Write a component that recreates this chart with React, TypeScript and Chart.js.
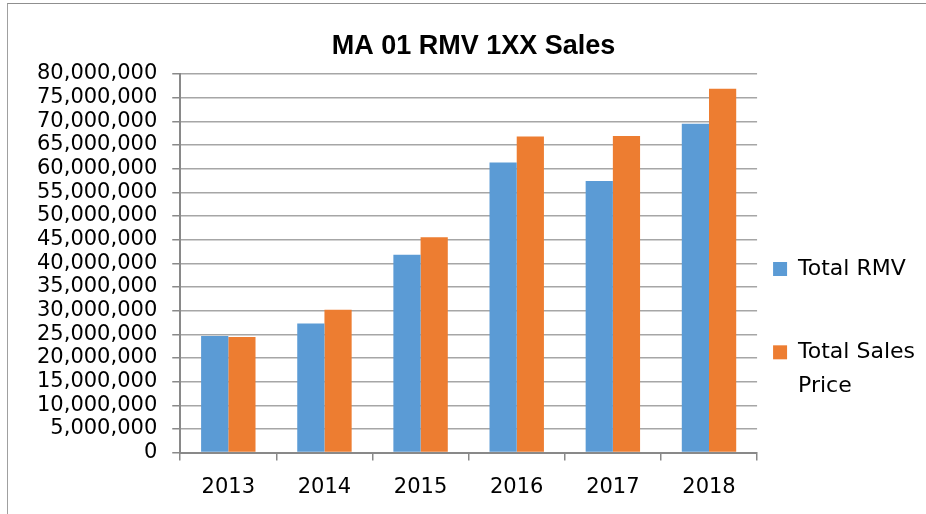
import React, { useEffect, useRef } from "react";
import { Chart, registerables } from "chart.js";

Chart.register(...registerables);

const categories = ["2013", "2014", "2015", "2016", "2017", "2018"];
const totalRMV = [24660000, 27300000, 41800000, 61300000, 57400000, 69500000];
const totalSalesPrice = [24400000, 30200000, 45500000, 66800000, 66900000, 76900000];
const seriesNames = ["Total RMV", "Total Sales Price"];
const legendLines = [["Total RMV", ""], ["Total Sales", "Price"]];
const yMin = 0;
const yMax = 80000000;
const yStep = 5000000;
const chartTitle = "MA 01 RMV 1XX Sales";

export default function App() {
  const ref = useRef<HTMLCanvasElement | null>(null);

  useEffect(() => {
    if (!ref.current) return;
    const chart = new Chart(ref.current, {
      type: "bar",
      data: {
        labels: categories,
        datasets: [
          { label: seriesNames[0], data: totalRMV, backgroundColor: "#5B9BD5", borderWidth: 0 },
          { label: seriesNames[1], data: totalSalesPrice, backgroundColor: "#ED7D31", borderWidth: 0 },
        ],
      },
      options: {
        responsive: false,
        animation: false,
        datasets: { bar: { categoryPercentage: 0.566, barPercentage: 1 } },
        layout: { padding: { left: 22, right: 1, top: 0, bottom: 0 } },
        plugins: {
          tooltip: { enabled: false },
          title: {
            display: true,
            text: chartTitle,
            color: "#000",
            font: { family: "Liberation Sans", size: 27, weight: "bold", lineHeight: 1.2 },
            padding: { top: 30, bottom: 11.6 },
          },
          legend: {
            position: "right",
            align: "start",
            title: { display: true, text: "", font: { size: 10, lineHeight: 1 }, padding: { top: 232, bottom: 0 } },
            labels: {
              color: "#000",
              boxWidth: 14,
              boxHeight: 14,
              padding: 16,
              font: { family: "DejaVu Sans", size: 22, lineHeight: 1.53 },
              generateLabels: (c: any) => {
                const items = Chart.defaults.plugins.legend.labels.generateLabels(c);
                return items.map((it: any, i: number) => ({
                  ...it,
                  text: legendLines[i],
                  lineWidth: 0,
                  strokeStyle: "transparent",
                }));
              },
            },
          },
        },
        scales: {
          x: {
            grid: {
              display: true,
              drawOnChartArea: false,
              drawTicks: true,
              tickLength: 8,
              offset: true,
              color: "#898989",
              lineWidth: 1.5,
            },
            border: { display: true, color: "#898989", width: 2 },
            ticks: {
              color: "#000",
              padding: 16,
              font: { family: "DejaVu Sans", size: 21, lineHeight: 1.02 },
            },
          },
          y: {
            min: yMin,
            max: yMax,
            grid: {
              color: "#a6a6a6",
              lineWidth: 1.5,
              drawTicks: true,
              tickLength: 8,
              tickColor: "#898989",
            },
            border: { display: true, color: "#898989", width: 2 },
            ticks: {
              stepSize: yStep,
              autoSkip: false,
              color: "#000",
              padding: 15,
              font: { family: "DejaVu Sans", size: 21, lineHeight: 1.1 },
              callback: (v: any) => Number(v).toLocaleString("en-US"),
            },
          },
        },
      },
    });
    return () => chart.destroy();
  }, []);

  return (
    <div
      style={{
        position: "fixed",
        left: 0,
        top: 0,
        width: 926,
        height: 514,
        background: "#fff",
        overflow: "hidden",
      }}
    >
      <canvas ref={ref} width={926} height={514} style={{ width: 926, height: 514, display: "block" }} />
      <div
        style={{
          position: "absolute",
          left: 7,
          top: 3,
          right: 0,
          bottom: -2,
          borderTop: "1.5px solid #8f8f8f",
          borderLeft: "1.5px solid #a0a0a0",
          pointerEvents: "none",
        }}
      />
    </div>
  );
}
